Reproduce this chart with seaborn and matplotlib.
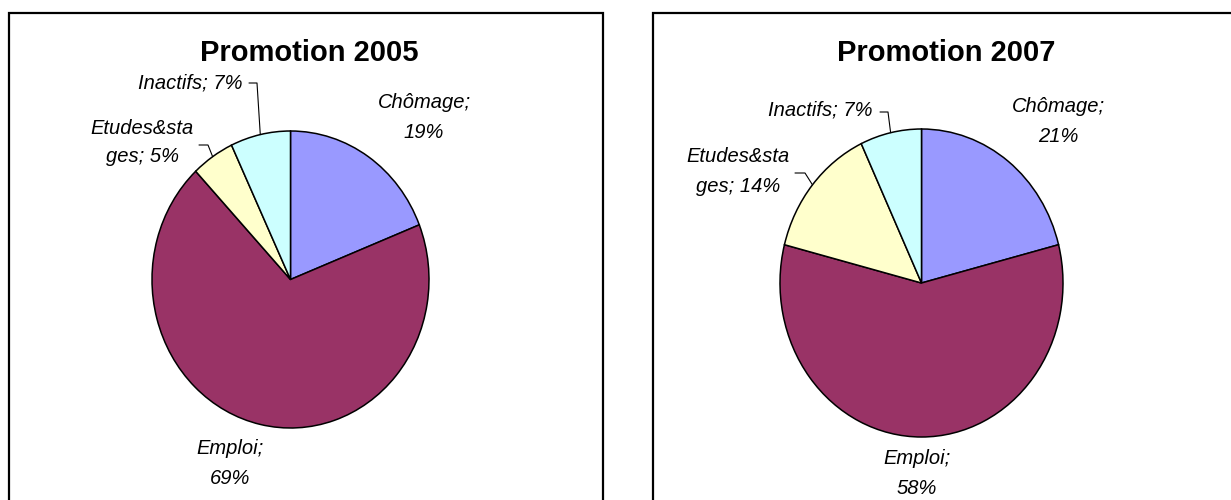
import numpy as np
import matplotlib
matplotlib.use("Agg")
import matplotlib.pyplot as plt
from matplotlib.patches import Rectangle
from matplotlib.lines import Line2D
import seaborn as sns

# Data
categories = ["Chômage", "Emploi", "Etudes&stages", "Inactifs"]
values_2005 = [19, 69, 5, 7]
values_2007 = [21, 58, 14, 7]
titles = ["Promotion 2005", "Promotion 2007"]
palette = ["#9999FF", "#993366", "#FFFFCC", "#CCFFFF"]

sns.set_theme(style="white")
plt.rcParams["font.family"] = ["Liberation Sans", "DejaVu Sans"]

W, H = 1231, 500
fig = plt.figure(figsize=(W / 100, H / 100), dpi=100)
fig.patch.set_facecolor("white")


def fx(px):
    return px / W


def fy(py):
    return 1 - py / H


def frame(x0, y0, x1, y1):
    fig.patches.append(Rectangle((fx(x0), fy(y1)), fx(x1) - fx(x0), fy(y0) - fy(y1),
                                 transform=fig.transFigure, fill=False,
                                 edgecolor="black", linewidth=1.6, zorder=0))


def label(px, py, s, ha="center"):
    fig.text(fx(px), fy(py), s, ha=ha, va="center", fontsize=14.5,
             style="italic", color="black")


def draw_pie(vals, title, cx, cy, rx, ry, box, title_xy, lab):
    frame(*box)
    ax = fig.add_axes([fx(cx - rx), fy(cy + ry), 2 * rx / W, 2 * ry / H])
    ax.pie(vals, colors=sns.color_palette(palette), startangle=90, counterclock=False,
           radius=1, wedgeprops=dict(edgecolor="black", linewidth=1.1))
    ax.set_aspect("auto")
    ax.set_xlim(-1, 1)
    ax.set_ylim(-1, 1)
    ax.axis("off")
    fig.text(fx(title_xy[0]), fy(title_xy[1]), title, ha="center", va="center",
             fontsize=21, fontweight="bold", color="black")

    # mid-angle of each wedge (clockwise from top)
    cum = np.cumsum([0] + list(vals))
    mids = [90 - 3.6 * (cum[i] + vals[i] / 2) for i in range(len(vals))]

    def edge(i):
        a = np.deg2rad(mids[i])
        return cx + rx * np.cos(a), cy - ry * np.sin(a)

    texts = [f"{c}; {v}%" for c, v in zip(categories, vals)]
    # Chômage
    c1, c2 = texts[0].split(" ")
    label(lab["chom"][0], lab["chom"][1], c1)
    label(lab["chom"][0], lab["chom"][1] + 30, c2)
    # Emploi
    e1, e2 = texts[1].split(" ")
    label(lab["empl"][0], lab["empl"][1], e1)
    label(lab["empl"][0], lab["empl"][1] + 30, e2)
    # Etudes&stages, wrapped
    s = texts[2]
    label(lab["etud"][0], lab["etud"][1], s[:10])
    label(lab["etud"][0], lab["etud"][1] + 29, s[10:])
    # Inactifs
    label(lab["inac"][0], lab["inac"][1], texts[3], ha="right")

    # leader lines
    for i, pts in ((3, lab["inac_line"]), (2, lab["etud_line"])):
        ex, ey = edge(i)
        xs = [p[0] for p in pts] + [ex]
        ys = [p[1] for p in pts] + [ey]
        fig.lines.append(Line2D([fx(x) for x in xs], [fy(y) for y in ys],
                                transform=fig.transFigure, color="black",
                                linewidth=0.8))


draw_pie(values_2005, titles[0], 290.5, 279.5, 138.5, 148.5,
         (9, 13, 603, 506), (309, 53),
         dict(chom=(424, 103), empl=(230, 448), etud=(142, 128),
              inac=(242, 83), inac_line=[(249, 83), (257, 83)],
              etud_line=[(199, 145), (208, 145)]))

draw_pie(values_2007, titles[1], 921.5, 283, 141.5, 154,
         (653, 13, 1234, 506), (946, 53),
         dict(chom=(1058, 106), empl=(917, 459), etud=(738, 157),
              inac=(873, 110), inac_line=[(880, 112), (888, 112)],
              etud_line=[(795, 173), (805, 173)]))

fig.savefig("out.png", dpi=100)
